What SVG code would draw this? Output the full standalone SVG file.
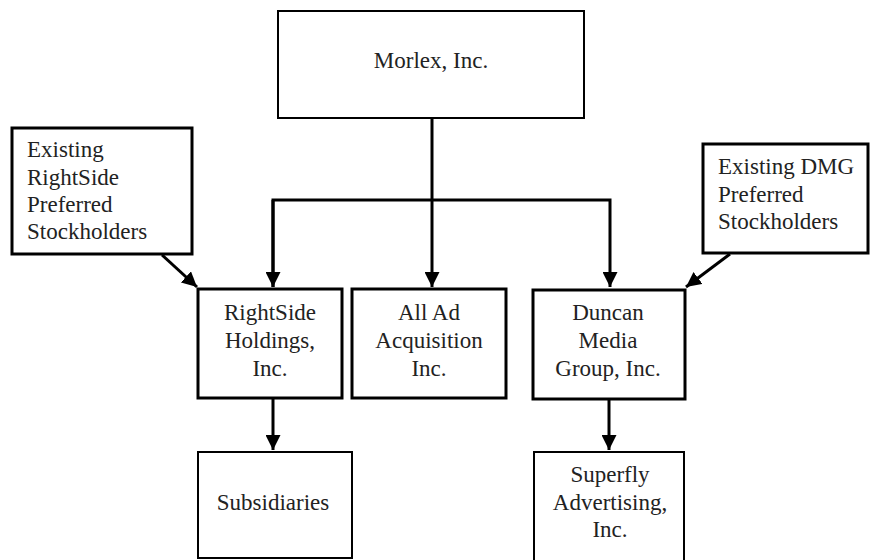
<svg xmlns="http://www.w3.org/2000/svg" width="871" height="560" viewBox="0 0 871 560">
<defs>
<style>
.box{fill:#fff;stroke:#000;stroke-width:3}
.thin{stroke-width:2}
.t{font-family:"Liberation Serif","Times New Roman",serif;font-size:23px;fill:#222}
.c{text-anchor:middle}
.ln{fill:none;stroke:#000;stroke-width:3}
</style>
<marker id="ah" viewBox="0 0 10 10" refX="10" refY="5" markerWidth="5" markerHeight="5" markerUnits="strokeWidth" orient="auto">
<path d="M0,0 L10,5 L0,10 Z" fill="#000"/>
</marker>
</defs>
<rect width="871" height="560" fill="#fff"/>
<g id="connectors">
<path class="ln" d="M432,118 V287" marker-end="url(#ah)"/>
<path class="ln" d="M273,287 V200 H610 V287" marker-end="url(#ah)"/>
<path class="ln" d="M273,200 V287" marker-end="url(#ah)"/>
<path class="ln" d="M162,255 L197,287" marker-end="url(#ah)"/>
<path class="ln" d="M730,254 L686,287" marker-end="url(#ah)"/>
<path class="ln" d="M273,399 V450" marker-end="url(#ah)"/>
<path class="ln" d="M609,399 V450" marker-end="url(#ah)"/>
</g>
<g id="morlex">
<rect class="box thin" x="278" y="11" width="306" height="107"/>
<text class="t c" x="431" y="68">Morlex, Inc.</text>
</g>
<g id="rightside-pref">
<rect class="box" x="12" y="128" width="180" height="126"/>
<text class="t" x="27" y="157">Existing</text>
<text class="t" x="27" y="185">RightSide</text>
<text class="t" x="27" y="212">Preferred</text>
<text class="t" x="27" y="239">Stockholders</text>
</g>
<g id="dmg-pref">
<rect class="box" x="703" y="144" width="165" height="109"/>
<text class="t" x="718" y="174">Existing DMG</text>
<text class="t" x="718" y="202">Preferred</text>
<text class="t" x="718" y="229">Stockholders</text>
</g>
<g id="rightside">
<rect class="box" x="198" y="289" width="144" height="109"/>
<text class="t c" x="270" y="320">RightSide</text>
<text class="t c" x="270" y="348">Holdings,</text>
<text class="t c" x="270" y="376">Inc.</text>
</g>
<g id="allad">
<rect class="box" x="352" y="289" width="154" height="109"/>
<text class="t c" x="429" y="320">All Ad</text>
<text class="t c" x="429" y="348">Acquisition</text>
<text class="t c" x="429" y="376">Inc.</text>
</g>
<g id="duncan">
<rect class="box" x="533" y="290" width="152" height="109"/>
<text class="t c" x="608" y="320">Duncan</text>
<text class="t c" x="608" y="348">Media</text>
<text class="t c" x="608" y="376">Group, Inc.</text>
</g>
<g id="subsidiaries">
<rect class="box thin" x="198" y="452" width="154" height="106"/>
<text class="t c" x="273" y="510">Subsidiaries</text>
</g>
<g id="superfly">
<rect class="box thin" x="534" y="452" width="150" height="110"/>
<text class="t c" x="610" y="482">Superfly</text>
<text class="t c" x="610" y="510">Advertising,</text>
<text class="t c" x="610" y="537">Inc.</text>
</g>
</svg>
